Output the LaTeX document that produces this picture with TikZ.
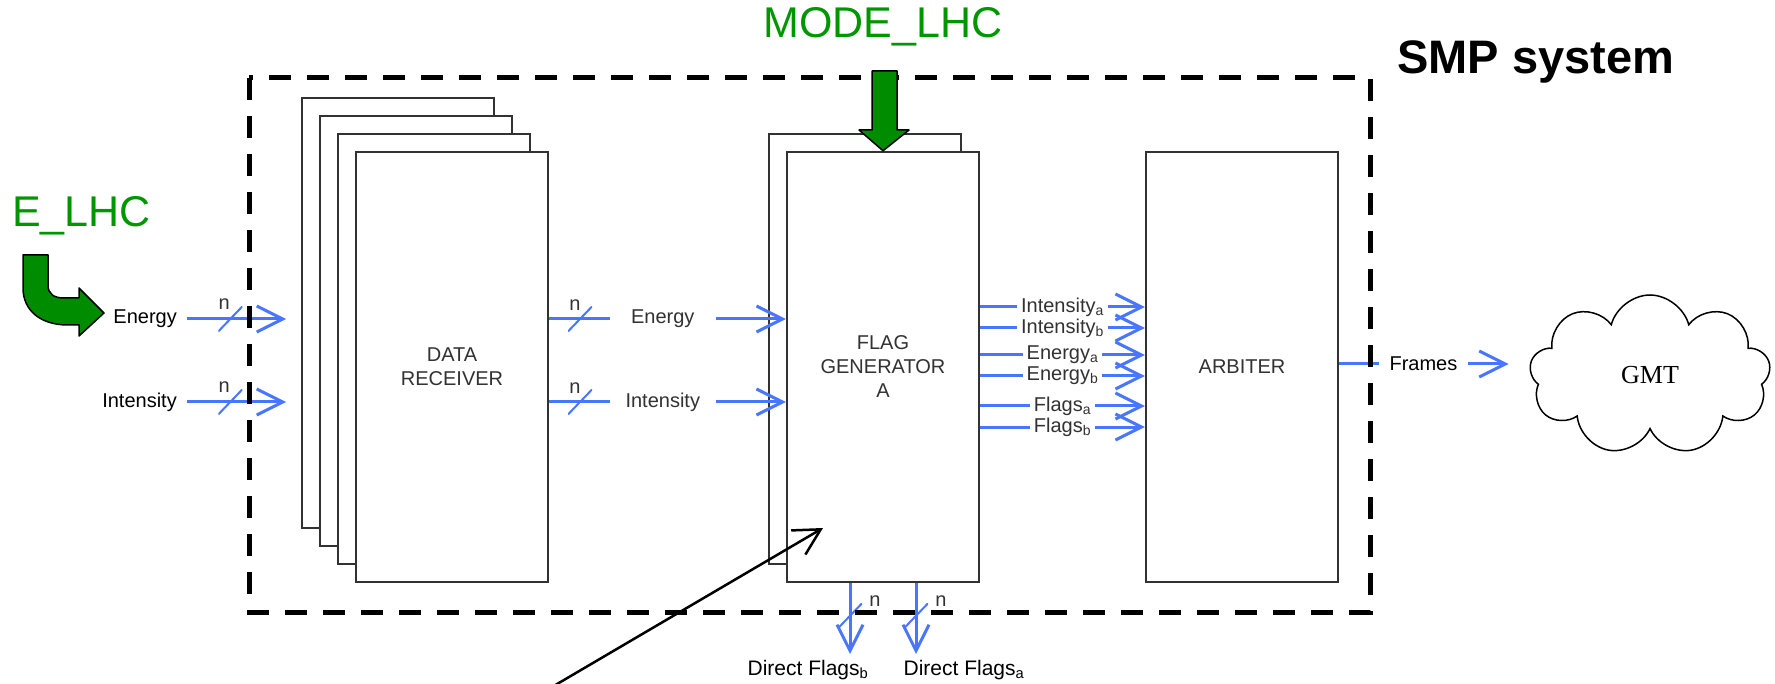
\documentclass[tikz,border=0pt]{standalone}
\usepackage{fontspec}
\setmainfont{Liberation Sans}
\newfontfamily\gmtfont{Liberation Serif}
\usetikzlibrary{arrows.meta,calc,positioning,shapes.symbols}
\definecolor{sigblue}{RGB}{72,118,255}
\definecolor{boxgray}{RGB}{50,50,50}
\definecolor{lhcgreen}{RGB}{0,150,0}
\definecolor{lhcfill}{RGB}{0,140,0}
\begin{document}
\begin{tikzpicture}[x=1pt,y=-1pt,
  blk/.style={draw=boxgray,line width=2.5pt,fill=white,minimum width=192pt,minimum height=430pt,
    inner sep=0pt,text=boxgray,align=center,font=\fontsize{20}{24}\selectfont},
  sig/.style={draw=sigblue,line width=3pt,-{Straight Barb[length=26pt,width=26pt]}},
  slash/.style={minimum width=24pt,minimum height=25pt,inner sep=0pt,
    path picture={\draw[-,sigblue,line width=2pt] (path picture bounding box.south west)--(path picture bounding box.north east);}},
  lbl/.style={font=\fontsize{20}{24}\selectfont,inner sep=0pt},
  mlbl/.style={lbl,fill=white,text=boxgray,minimum width=106pt,minimum height=22pt},
  flbl/.style={lbl,fill=white,text=boxgray,inner xsep=4pt},
  lbln/.style={lbl,text=boxgray},
  big/.style={text=lhcgreen,inner sep=0pt,font=\fontsize{43}{50}\selectfont},
  garrow/.style={draw=black,line width=1.5pt,fill=lhcfill,line join=round}]
 \useasboundingbox (0,0) rectangle (1775,684);
 \foreach \i in {0,...,3}
   \node[blk] (dr\i) at (398+18*\i,313+18*\i) {};
 \node[lbl,text=boxgray,align=center] (drtxt) at (dr3) {DATA\\RECEIVER};
 \foreach \i in {0,1}
   \node[blk] (fg\i) at (865+18*\i,349+18*\i) {};
 \node[lbl,text=boxgray,align=center] (fgtxt) at (fg1) {FLAG\\GENERATOR\\A};
 \node[blk] (arb) at (1242,367) {ARBITER};
 \node[cloud,cloud puffs=9,draw,line width=1.5pt,aspect=1.6,minimum width=241pt,minimum height=160pt,
   inner sep=0pt,font=\gmtfont\fontsize{26}{30}\selectfont] (gmt) at (1650,375) {GMT};
 \foreach \y/\t/\k in {319/Energy/e,402/Intensity/i}{
   \node[lbl,anchor=east,inner xsep=10pt] (in\k) at (187,\y) {\t};
   \coordinate (tip\k) at (286,\y);
   \draw[sig] (in\k) -- node[slash,pos=0.437] (sa\k) {} (tip\k);
   \node[lbln] (na\k) at ($(sa\k)+(-6,-15)$) {n};
   \draw[sig] (dr3.east |- 0,\y) -- node[slash,pos=0.13] (sb\k) {}
     node[mlbl,pos=0.48] (mb\k) {\t} (fg1.west |- 0,\y);
   \node[lbln] (nb\k) at ($(sb\k)+(-5,-14)$) {n};}
 \foreach \y/\t/\k in {307/Intensity/a,328/Intensity/b,355/Energy/a,376/Energy/b,406/Flags/a,427/Flags/b}
   \draw[sig] (fg1.east |- 0,\y) -- node[flbl] (fo\y) {\t\textsubscript{\k}} (arb.west |- 0,\y);
 \draw[sig,shorten >=22pt] (arb.east |- 0,364) -- node[lbl,fill=white,inner xsep=11pt,pos=0.44] (frm) {Frames} (gmt.west |- 0,364);
 \foreach \x/\k/\lx in {850/b/808,916/a/964}{
   \coordinate (df\k) at (\x,654);
   \draw[sig] (fg1.south -| \x,0) -- node[slash,pos=0.46] (sc\k) {} (df\k);
   \node[lbln] (nc\k) at ($(sc\k)+(25,-15)$) {n};
   \node[lbl,font=\fontsize{21}{25}\selectfont] (dl\k) at (\lx,670) {Direct Flags\textsubscript{\k}};}
 \draw[line width=5pt,dash pattern=on 22pt off 16pt] (249,78) rectangle (1370,612);
 \draw[garrow] (872,71)--(897,71)--(897,130)--(909,130)--(fg1.north)--(859,130)--(872,130)--cycle;
 \draw[garrow] (23,255)--(48,255)--(48,285) .. controls (48,294) and (54,298) .. (64,298)--(79,298)--(79,288)
   --(104,313)--(79,336)--(79,325)--(68,325) .. controls (40,325) and (23,310) .. (23,288)--cycle;
 \node[big] (mode) at (883,27) {MODE\_LHC};
 \node[big,anchor=base west] (elhc) at (12,227) {E\_LHC};
 \node[font=\bfseries\fontsize{47}{54}\selectfont,anchor=base west,inner sep=0pt] (smp) at (1397,74) {SMP system};
 \coordinate (pstart) at (552,687);
 \coordinate (ptip) at (823,528);
 \draw[line width=2.5pt,-{Straight Barb[length=26pt,width=28pt]}] (pstart) -- (ptip);
\end{tikzpicture}
\end{document}
